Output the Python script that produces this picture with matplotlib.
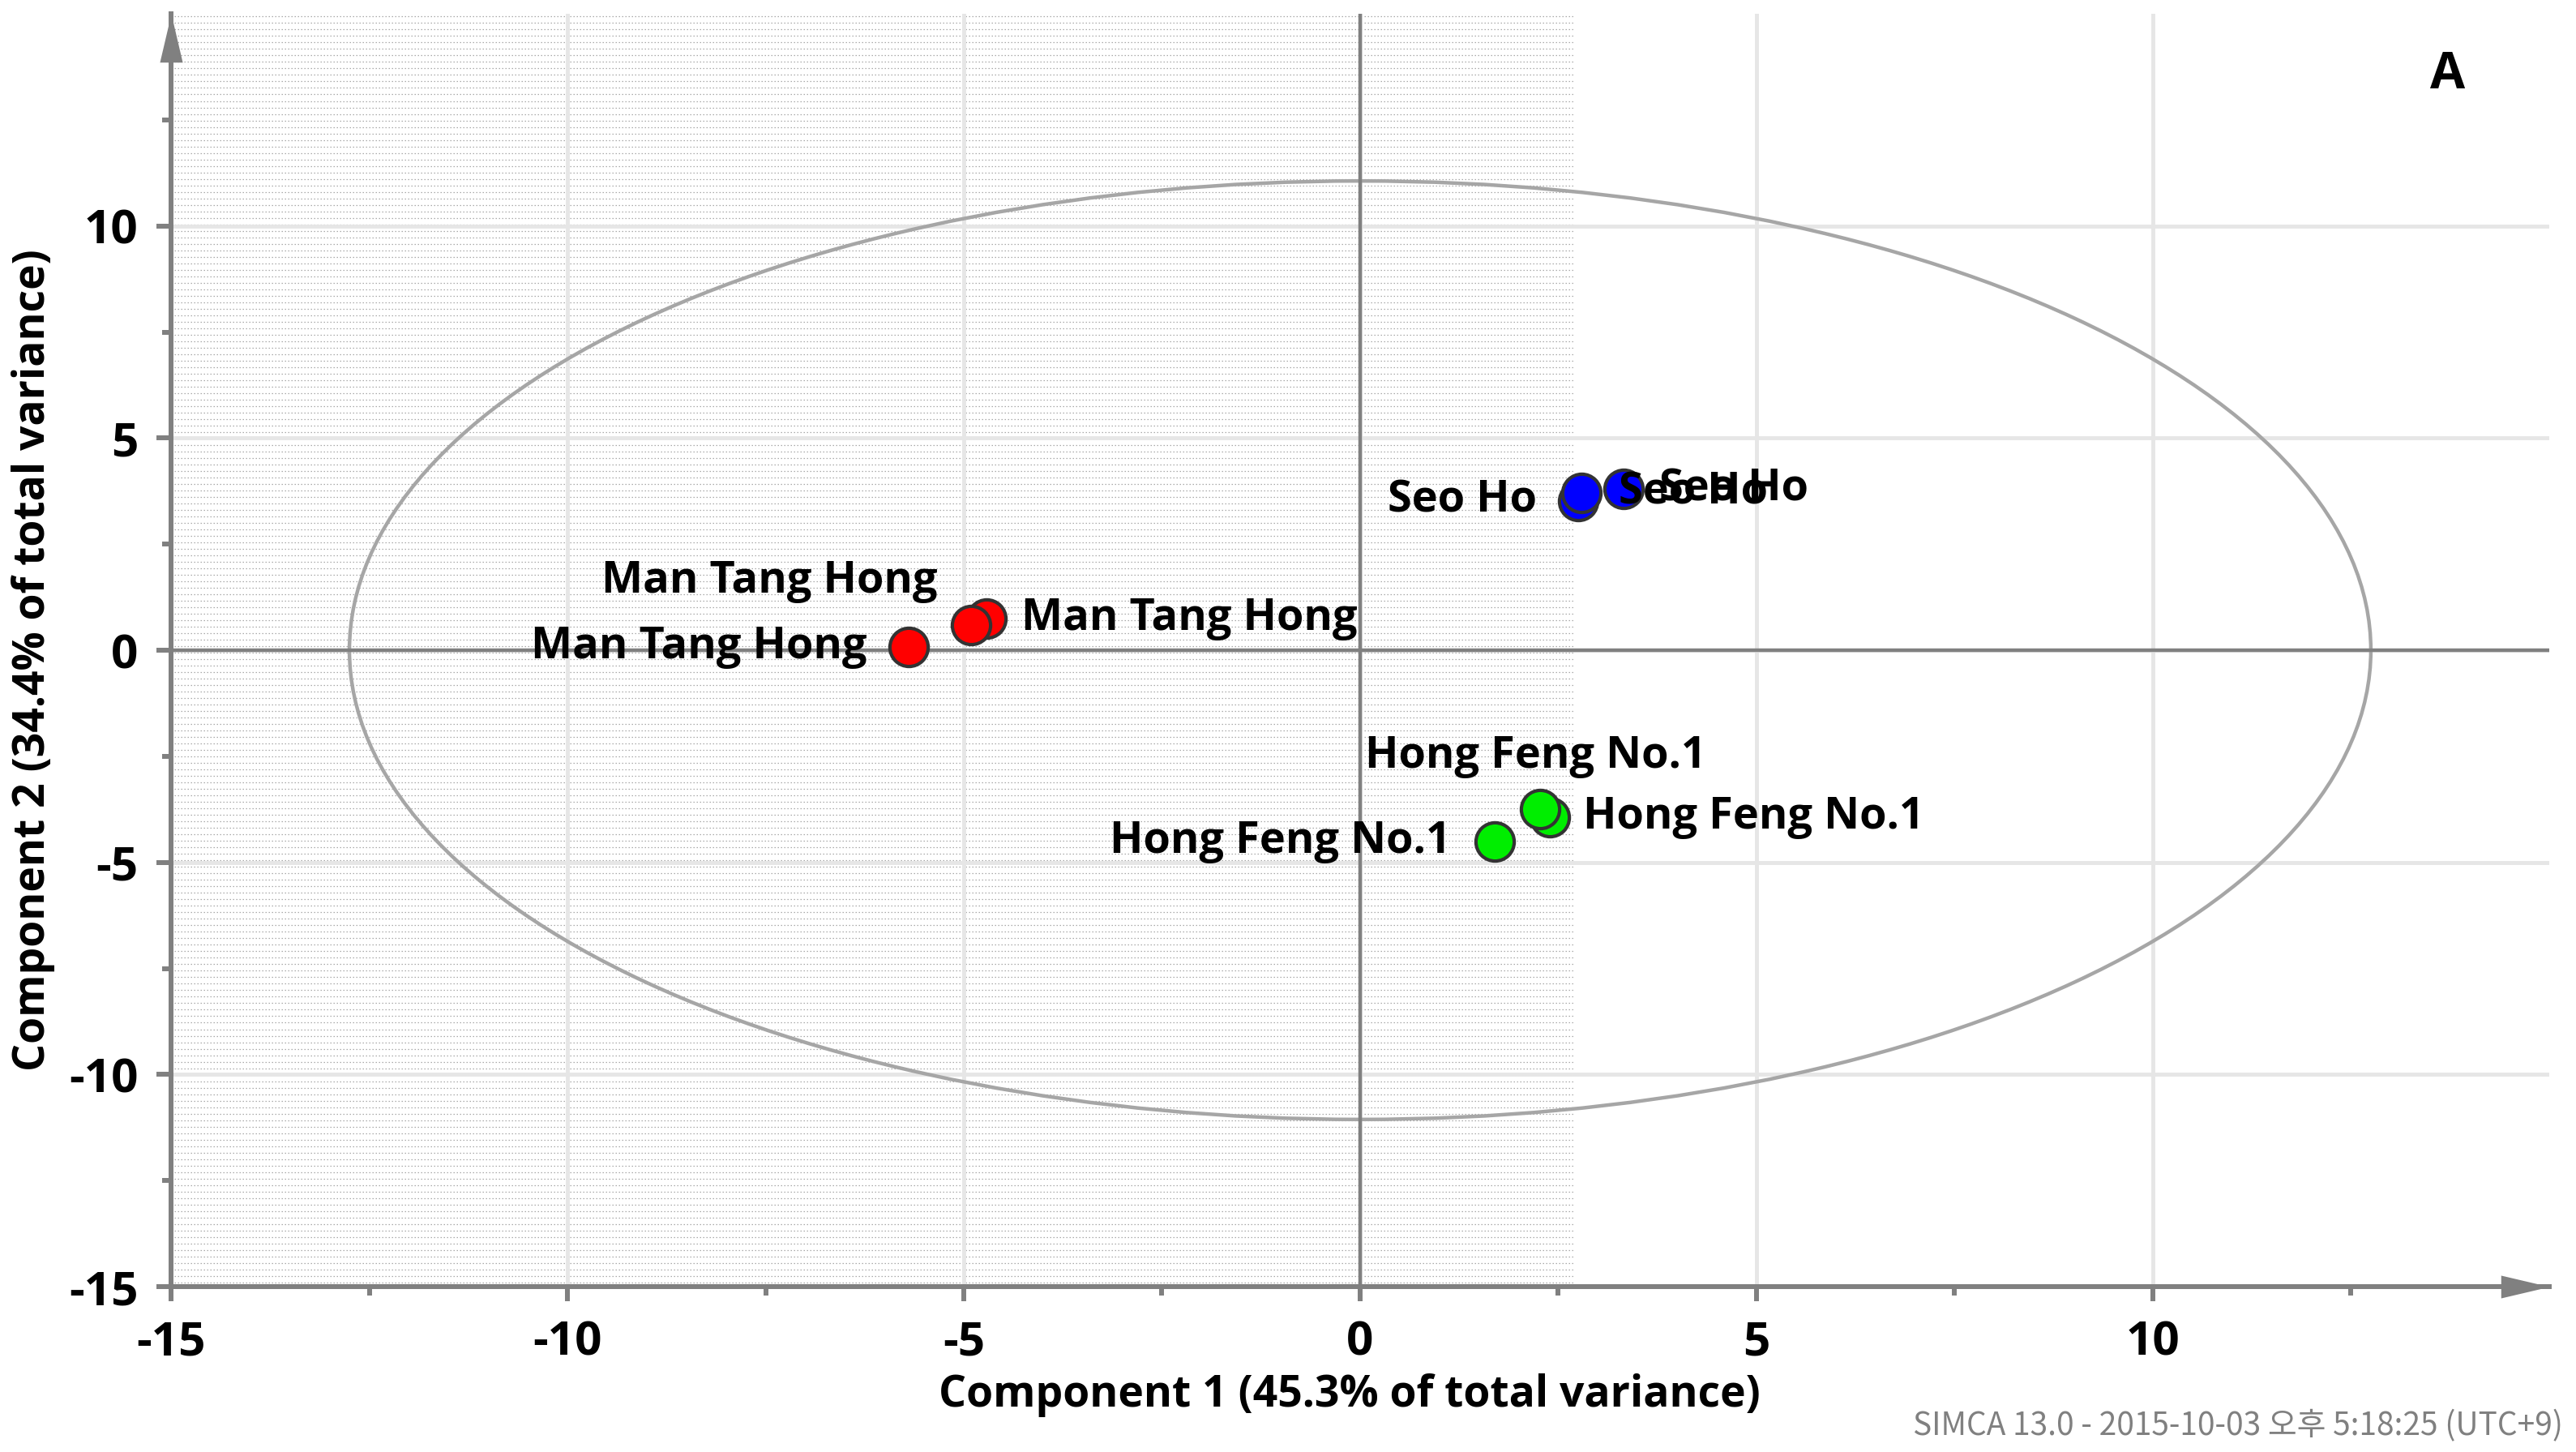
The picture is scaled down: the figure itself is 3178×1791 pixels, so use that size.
import numpy as np
import matplotlib
matplotlib.use('Agg')
import matplotlib.pyplot as plt
from matplotlib.patches import Ellipse

# PCA scores
mth_x = [-5.70, -4.71, -4.91]
mth_y = [0.08, 0.75, 0.59]
seo_x = [2.75, 2.79, 3.32]
seo_y = [3.52, 3.71, 3.80]
hf_x = [1.70, 2.39, 2.27]
hf_y = [-4.51, -3.94, -3.75]

# label offsets in points for each sample (dx, dy, ha)
mth_lab = [(-37, 0, 'right'), (31, 0, 'left'), (-30, 39, 'right')]
seo_lab = [(-37, 0, 'right'), (33, 0, 'left'), (32, 0, 'left')]
hf_lab = [(-39, 0, 'right'), (30, 0, 'left'), (-4, 47, 'center')]

groups = [
    ('Man Tang Hong', mth_x, mth_y, mth_lab, '#ff0000'),
    ('Seo Ho', seo_x, seo_y, seo_lab, '#0000ff'),
    ('Hong Feng No.1', hf_x, hf_y, hf_lab, '#00ee00'),
]

ticks = [-15, -10, -5, 0, 5, 10]
minor_ticks = [-12.5, -7.5, -2.5, 2.5, 7.5, 12.5]
ell_w, ell_h = 12.75, 11.06   # Hotelling T2 ellipse semi axes
shade_right = 2.71

plt.rcParams['font.family'] = ['Open Sans', 'DejaVu Sans']
AX = '#808080'

fig = plt.figure(figsize=(31.78, 17.91), dpi=100)
ax = fig.add_axes([0.0664, 0.1139, 0.9232, 0.8766])
ax.set_xlim(-15, 15)
ax.set_ylim(-15, 15)

# dotted shading on the left part of the plot
for yy in np.arange(-14.9, 15, 0.153):
    ax.plot([-15, shade_right], [yy, yy], color='#a8a8a8', lw=0.9,
            dashes=(1.2, 2.0), zorder=0)

ax.set_xticks(ticks)
ax.set_yticks(ticks)
ax.set_xticks(minor_ticks, minor=True)
ax.set_yticks(minor_ticks, minor=True)
ax.grid(True, which='major', color='#e6e6e6', lw=3.5, zorder=1)
ax.set_axisbelow(True)

ax.add_patch(Ellipse((0, 0), 2 * ell_w, 2 * ell_h, fill=False,
                     ec='#a6a6a6', lw=3.2, zorder=2))
ax.axhline(0, color=AX, lw=3.2, zorder=3)
ax.axvline(0, color=AX, lw=3.2, zorder=3)

for name, xs, ys, labs, col in groups:
    for i in range(len(xs)):
        ax.plot(xs[i], ys[i], 'o', ms=34, mfc=col, mec='#333333', mew=3,
                zorder=5)
    for i in range(len(xs)):
        dx, dy, ha = labs[i]
        ax.annotate(name, (xs[i], ys[i]), xytext=(dx, dy),
                    textcoords='offset points', ha=ha, va='center',
                    fontsize=39, fontweight='bold', zorder=6)

for s in ['top', 'right']:
    ax.spines[s].set_visible(False)
for s in ['left', 'bottom']:
    ax.spines[s].set_color(AX)
    ax.spines[s].set_linewidth(4.3)

ax.tick_params(which='major', length=13, width=4.3, color=AX, pad=16,
               labelsize=42)
ax.tick_params(which='minor', length=8, width=4.3, color=AX)
ax.set_xticklabels([str(t) for t in ticks], fontweight='bold')
ax.set_yticklabels([str(t) for t in ticks], fontweight='bold')

# axis arrows
ax.plot([15], [-15], marker=[(0, 0), (-2, 0.47), (-2, -0.47)], ms=86,
        color=AX, mew=0, clip_on=False, zorder=7)
ax.plot([-15], [15], marker=[(0, 0), (-0.47, -2), (0.47, -2)], ms=86,
        color=AX, mew=0, clip_on=False, zorder=7)

fig.text(0.524, 0.0391, 'Component 1 (45.3% of total variance)',
         ha='center', va='center', fontsize=38.5, fontweight='bold')
fig.text(0.0129, 0.5455, 'Component 2 (34.4% of total variance)',
         ha='center', va='center', rotation=90, fontsize=38.5,
         fontweight='bold')
fig.text(0.950, 0.9486, 'A', ha='center', va='center', fontsize=45,
         fontweight='bold')
fig.text(0.995, 0.0117, 'SIMCA 13.0 - 2015-10-03 오후 5:18:25 (UTC+9)',
         ha='right', va='baseline', fontsize=28, color='#808080',
         family=['Noto Sans CJK KR', 'DejaVu Sans'])

fig.savefig('out.png', dpi=100)
